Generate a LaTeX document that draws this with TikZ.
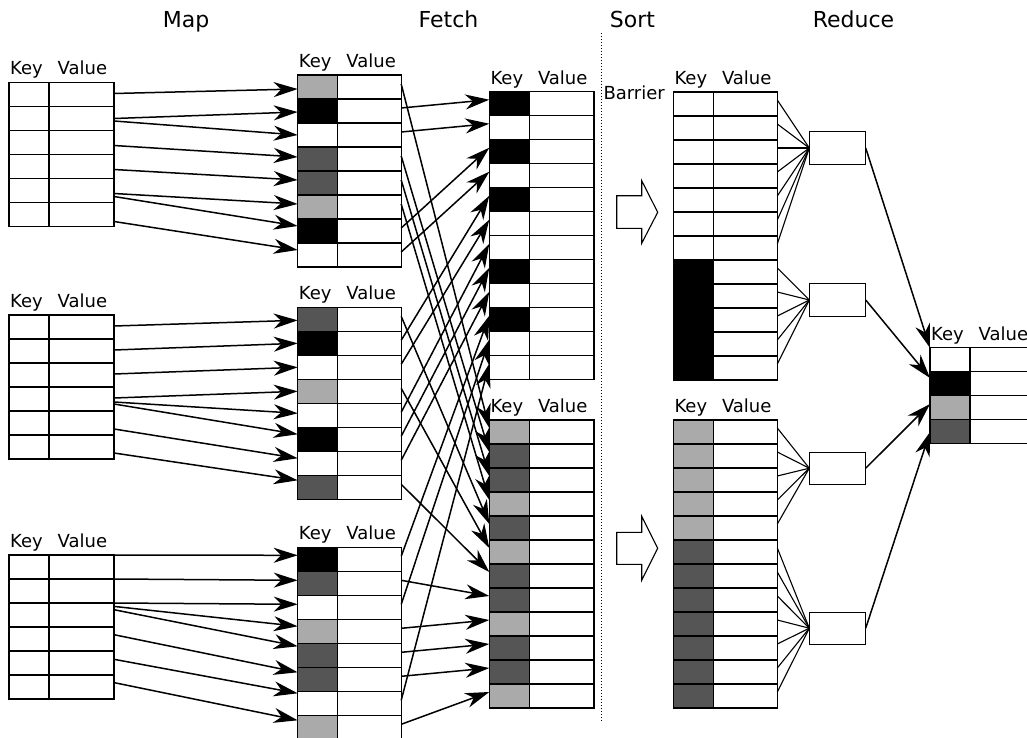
\documentclass[tikz,border=0pt]{standalone}
\usepackage{fontspec}
\setmainfont{DejaVu Sans}
\usetikzlibrary{arrows.meta,calc}
\definecolor{lightkey}{RGB}{170,170,170}
\definecolor{darkkey}{RGB}{85,85,85}

\tikzset{
  cell/.style={draw, line width=1.1pt, inner sep=0pt, outer sep=0pt, minimum height=24pt},
  hdr/.style={anchor=base west, inner sep=0pt, font=\fontsize{18}{20}\selectfont},
  title/.style={anchor=base, inner sep=0pt, font=\fontsize{22}{24}\selectfont},
  flow/.style={line width=1.5pt, -{Stealth[length=24pt,width=15pt,inset=7.5pt]}},
  link/.style={line width=1.1pt},
  redbox/.style={draw, line width=1.1pt, fill=white, minimum width=56.4pt, minimum height=32.3pt, inner sep=0pt, outer sep=0pt},
  bigarrow/.style={draw, line width=1.1pt, fill=white},
  barrierline/.style={line width=1.3pt, dash pattern=on 1.3pt off 1.7pt},
}

% key/value table: name, left x, top y, key width, value width, key colours
\newcommand{\kvtable}[6]{%
  \foreach \kcol [count=\i] in {#6} {
    \node[cell, fill=\kcol, minimum width=#4pt] (#1k\i) at ({#2+#4/2}, {#3+(\i-0.5)*24}) {};
    \node[cell, fill=white, minimum width=#5pt] (#1v\i) at ({#2+#4+#5/2}, {#3+(\i-0.5)*24}) {};
  }
  \node[hdr] (#1key) at ({#2+1}, {#3-7.5}) {Key};
  \node[hdr] (#1val) at ({#2+48.5}, {#3-7.5}) {Value};
}

\begin{document}
\begin{tikzpicture}[x=1pt, y=-1pt]
\useasboundingbox (0,0) rectangle (1027,738);
\fill[white] (0,0) rectangle (1027,738);
\clip (0,0) rectangle (1027,738);

% stage titles
\node[title] (tmap) at (186,28) {Map};
\node[title] (tfetch) at (448.5,28) {Fetch};
\node[title] (tsort) at (632.5,28) {Sort};
\node[title] (treduce) at (853.5,28) {Reduce};

% barrier
\draw[barrierline] (601.7,33) -- (601.7,722);
\node[hdr] (barrier) at (603.3,100) {Barrier};

% map input tables
\kvtable{La}{9}{82.5}{40}{65}{white,white,white,white,white,white}
\kvtable{Lb}{9}{315}{40}{65}{white,white,white,white,white,white}
\kvtable{Lc}{9}{555}{40}{65}{white,white,white,white,white,white}

% map output tables
\kvtable{Ma}{297.7}{75}{40}{63.5}{lightkey,black,white,darkkey,darkkey,lightkey,black,white}
\kvtable{Mb}{297.7}{307.3}{40}{63.5}{darkkey,black,white,lightkey,white,black,white,darkkey}
\kvtable{Mc}{297.7}{547.3}{40}{63.5}{black,darkkey,white,lightkey,darkkey,darkkey,white,lightkey}

% fetched tables
\kvtable{A}{489.3}{91.7}{40}{64.7}{black,white,black,white,black,white,white,black,white,black,white,white}
\kvtable{B}{489.3}{420}{40}{64.7}{lightkey,darkkey,darkkey,lightkey,darkkey,lightkey,darkkey,darkkey,lightkey,darkkey,darkkey,lightkey}

% sorted tables
\kvtable{C}{673.3}{92}{40}{64}{white,white,white,white,white,white,white,black,black,black,black,black}
\kvtable{D}{673.3}{420}{40}{64}{lightkey,lightkey,lightkey,lightkey,lightkey,darkkey,darkkey,darkkey,darkkey,darkkey,darkkey,darkkey}

% result table
\kvtable{F}{930}{347.5}{40}{64}{white,black,lightkey,darkkey}

% reducers
\node[redbox] (R1) at (837.5,148) {};
\node[redbox] (R2) at (837.5,300) {};
\node[redbox] (R3) at (837.5,468.2) {};
\node[redbox] (R4) at (837.5,628.2) {};

% sort arrows
\draw[bigarrow] (616.7,195.7) -- (641.7,195.7) -- (641.7,180.7) -- (657.7,212.3)
  -- (641.7,243.3) -- (641.7,228.3) -- (616.7,228.3) -- cycle;
\draw[bigarrow] (616.7,532.3) -- (641.7,532.3) -- (641.7,516.3) -- (657.7,548.3)
  -- (641.7,580.3) -- (641.7,564.3) -- (616.7,564.3) -- cycle;

% map: input rows to output rows
\foreach \s/\sd/\t/\td in {1/-1/1/2, 2/0/2/1, 2/2.5/3/0, 3/3/4/-2, 4/3/5/-3, 5/3/6/-3, 5/6/7/-5, 6/7/8/-5}
  \draw[flow] ($(Lav\s.east)+(0,\sd)$) -- ($(Mak\t.west)+(0,\td)$);
\foreach \s/\sd/\t/\td in {1/-1/1/1, 2/-1/2/0, 3/-1/3/0, 4/-1/4/0, 4/3/5/-2, 4/5/6/-5, 5/6/7/-5, 6/6/8/-7}
  \draw[flow] ($(Lbv\s.east)+(0,\sd)$) -- ($(Mbk\t.west)+(0,\td)$);
\foreach \s/\sd/\t/\td in {1/-12/1/-4, 2/-12/2/-3, 3/-12/3/-3, 3/-8.6/4/-5, 3/-5.3/5/-9, 4/-4.3/6/-7, 5/-3.7/7/-10, 6/-4.4/8/-7}
  \draw[flow] ($(Lcv\s.east)+(0,\sd)$) -- ($(Mck\t.west)+(0,\td)$);

% fetch: output rows to fetched rows
\foreach \s/\t in {Mav1/Bk1, Mav2/Ak1, Mav3/Ak2, Mav4/Bk2, Mav5/Bk3, Mav6/Bk4, Mav7/Ak3, Mav8/Ak4,
                   Mbv1/Bk5, Mbv2/Ak5, Mbv3/Ak6, Mbv4/Bk6, Mbv5/Ak7, Mbv6/Ak8, Mbv7/Ak9, Mbv8/Bk7,
                   Mcv1/Ak10, Mcv2/Bk8, Mcv3/Ak11, Mcv4/Bk9, Mcv5/Bk10, Mcv6/Bk11, Mcv7/Ak12, Mcv8/Bk12}
  \draw[flow] ($(\s.east)+(0,-3)$) -- ($(\t.west)+(0,-4)$);

% reduce: sorted rows to reducers
\foreach \i in {1,...,7} \draw[link] ($(Cv\i.east)+(0,-4)$) -- (R1.west);
\foreach \i in {8,...,12} \draw[link] ($(Cv\i.east)+(0,-4)$) -- (R2.west);
\foreach \i in {1,...,5} \draw[link] ($(Dv\i.east)+(0,-4)$) -- (R3.west);
\foreach \i in {6,...,12} \draw[link] ($(Dv\i.east)+(0,-4)$) -- (R4.west);

% reducers to result rows
\draw[flow] (R1.east) -- ($(Fk1.west)+(0,-11.5)$);
\draw[flow] (R2.east) -- ($(Fk2.west)+(0,-5.5)$);
\draw[flow] (R3.east) -- ($(Fk3.west)+(0,-3.5)$);
\draw[flow] (R4.east) -- ($(Fk4.west)+(0,0.5)$);
\end{tikzpicture}
\end{document}
